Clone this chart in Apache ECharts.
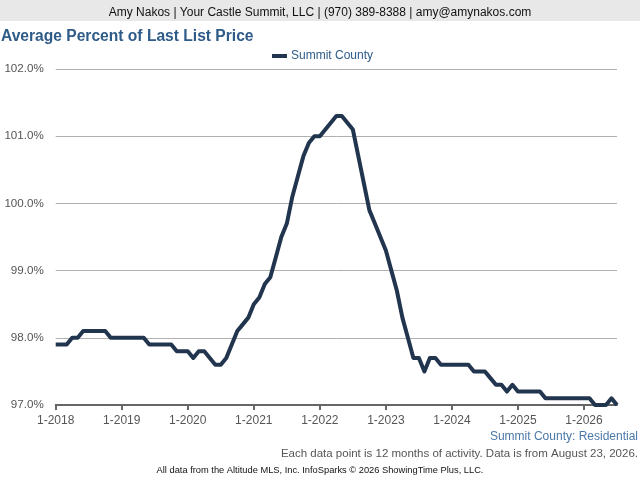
<!DOCTYPE html>
<html>
<head>
<meta charset="utf-8">
<script src="https://cdn.jsdelivr.net/npm/echarts@6/dist/echarts.min.js"></script>
<style>html,body{margin:0;padding:0;background:#fff}#c{width:640px;height:480px}</style>
</head>
<body>
<div id="c"></div>
<script>
// Month categories from 1-2018 to 7-2026
const startYear = 2018;
const monthCount = 103;
const categories = [];
for (let i = 0; i < monthCount; i++) {
  categories.push(((i % 12) + 1) + '-' + (startYear + Math.floor(i / 12)));
}
const seriesName = 'Summit County';
const summitCounty = [
  97.9, 97.9, 97.9, 98.0, 98.0, 98.1, 98.1, 98.1, 98.1, 98.1, 98.0, 98.0,
  98.0, 98.0, 98.0, 98.0, 98.0, 97.9, 97.9, 97.9, 97.9, 97.9, 97.8, 97.8,
  97.8, 97.7, 97.8, 97.8, 97.7, 97.6, 97.6, 97.7, 97.9, 98.1, 98.2, 98.3,
  98.5, 98.6, 98.8, 98.9, 99.2, 99.5, 99.7, 100.1, 100.4, 100.7, 100.9, 101.0,
  101.0, 101.1, 101.2, 101.3, 101.3, 101.2, 101.1, 100.7, 100.3, 99.9, 99.7, 99.5,
  99.3, 99.0, 98.7, 98.3, 98.0, 97.7, 97.7, 97.5, 97.7, 97.7, 97.6, 97.6,
  97.6, 97.6, 97.6, 97.6, 97.5, 97.5, 97.5, 97.4, 97.3, 97.3, 97.2, 97.3,
  97.2, 97.2, 97.2, 97.2, 97.2, 97.1, 97.1, 97.1, 97.1, 97.1, 97.1, 97.1,
  97.1, 97.1, 97.0, 97.0, 97.0, 97.1, 97.0
];
const yMin = 97, yMax = 102, yStep = 1;

const FONT = '"Liberation Sans", Arial, sans-serif';
const chart = echarts.init(document.getElementById('c'), null, {renderer: 'canvas'});
chart.setOption({
  animation: false,
  backgroundColor: '#ffffff',
  textStyle: {fontFamily: FONT},
  graphic: [
    {type: 'rect', left: 0, top: 0, shape: {width: 640, height: 21}, style: {fill: '#e8e8e8'}, z: -1}
  ],
  title: [
    {text: 'Amy Nakos | Your Castle Summit, LLC | (970) 389-8388 | amy@amynakos.com',
     left: 'center', top: 7, padding: 0,
     textStyle: {fontFamily: FONT, fontSize: 12, fontWeight: 'normal', color: '#111'}},
    {text: 'Average Percent of Last List Price', left: 1, top: 29, padding: 0,
     textStyle: {fontFamily: FONT, fontSize: 15.6, fontWeight: 'bold', color: '#2f5b89'}},
    {text: 'Summit County: Residential', right: 2, top: 431, padding: 0,
     textStyle: {fontFamily: FONT, fontSize: 12, fontWeight: 'normal', color: '#4a78a8'}},
    {text: 'Each data point is 12 months of activity. Data is from August 23, 2026.', right: 2, top: 448, padding: 0,
     textStyle: {fontFamily: FONT, fontSize: 11.5, fontWeight: 'normal', color: '#555'}},
    {text: 'All data from the Altitude MLS, Inc. InfoSparks \u00a9 2026 ShowingTime Plus, LLC.', left: 'center', top: 466, padding: 0,
     textStyle: {fontFamily: FONT, fontSize: 9.3, fontWeight: 'normal', color: '#111'}}
  ],
  legend: {
    data: [seriesName], top: 50, left: 272, padding: 0,
    itemWidth: 15, itemHeight: 4, itemGap: 6,
    icon: 'rect',
    textStyle: {fontFamily: FONT, fontSize: 12, color: '#2f5b89', padding: [0,0,0,-1]}
  },
  grid: {left: 55.7, right: 23, top: 69, bottom: 75, containLabel: false},
  xAxis: {
    type: 'category', data: categories, boundaryGap: false,
    axisLine: {show: true, lineStyle: {color: '#666', width: 2}},
    axisTick: {show: true, interval: 11, length: 5, lineStyle: {color: '#666', width: 2}},
    axisLabel: {interval: 11, color: '#555', fontSize: 12, fontFamily: FONT, margin: 10},
    splitLine: {show: false}
  },
  yAxis: {
    type: 'value', min: yMin, max: yMax, interval: yStep,
    axisLine: {show: false}, axisTick: {show: false},
    axisLabel: {color: '#555', fontSize: 11.6, fontFamily: FONT, margin: 12,
      formatter: v => v.toFixed(1) + '%'},
    splitLine: {lineStyle: {color: '#b0b0b0', width: 1}}
  },
  series: [{
    name: seriesName, type: 'line', data: summitCounty,
    showSymbol: false, symbol: 'none',
    lineStyle: {color: '#22354f', width: 4, join: 'round'},
    itemStyle: {color: '#22354f'},
    clip: false
  }]
});
</script>
</body>
</html>
